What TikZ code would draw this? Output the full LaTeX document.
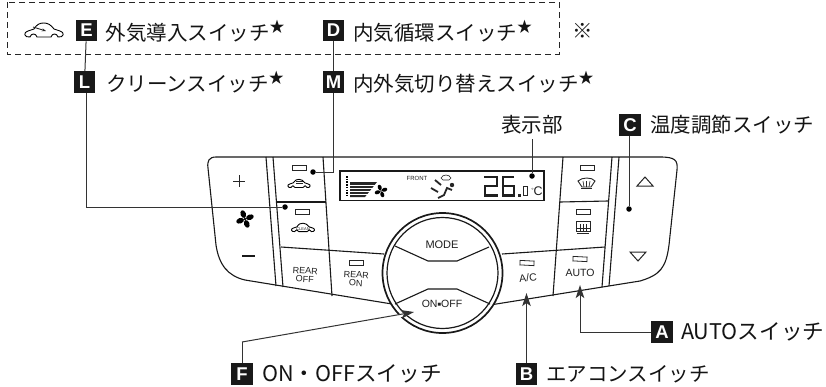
\documentclass[tikz,border=0pt]{standalone}
\usepackage{fontspec}
\setmainfont{Noto Sans CJK JP}
\newfontfamily\latinf{Liberation Sans}
\usetikzlibrary{arrows.meta}
\tikzset{
 panel/.style={line width=1.1pt,draw=black!90},
 ldr/.style={line width=1pt,draw=black!80},
 arrowldr/.style={ldr,-{Stealth[length=13pt,width=8.5pt,inset=3pt]}},
 badge/.style={fill=black!90,text=white,minimum size=21.5pt,inner sep=0pt,font=\latinf\bfseries\fontsize{18.5}{18.5}\selectfont},
 lbl/.style={anchor=west,inner sep=0pt,text=black!92,font=\fontsize{20.5}{21}\selectfont},
 lbllat/.style={lbl,font=\fontsize{21.6}{23}\selectfont},
 dotnode/.style={circle,fill=black,minimum size=5.5pt,inner sep=0pt},
 ind/.style={draw=black!85,line width=0.8pt,fill=white,minimum width=14pt,minimum height=4.5pt,inner sep=0pt},
 btn/.style={font=\latinf\fontsize{#1}{#1}\selectfont,align=center,inner sep=0pt,text=black!88},
 caricon/.pic={
  \draw[line width=0.9pt,line join=round] (-14,6) .. controls (-20,7) and (-21,1) .. (-16,0) -- (-10,-2) .. controls (-7,-7) and (-4,-8) .. (0,-8) .. controls (4,-8) and (7,-6) .. (10,-2) -- (16,0) .. controls (21,1) and (20,7) .. (14,6) .. controls (13,2) and (8,2) .. (7,6) -- (-7,6) .. controls (-8,2) and (-13,2) .. (-14,6) -- cycle;
 },
 fanicon/.pic={
  \foreach \a in {20,110,200,290}{\fill[rotate=\a] (5.2,0) ellipse (4 and 2.7);}
  \fill (0,0) circle (1.3);
 },
}
\newcommand{\seg}[1]{\draw[line width=2.6pt,line cap=butt,line join=miter,black!88] #1;}
\begin{document}
\begin{tikzpicture}[x=1pt,y=-1pt]
\useasboundingbox (0,0) rectangle (826,386);
\fill[white] (0,0) rectangle (826,386);
% dashed box
\draw[line width=1pt,dash pattern=on 6pt off 4pt,black!85] (7,2) rectangle (559,54);
% panel outline
\draw[panel] (216,157) -- (660,157) .. controls (675,157) and (678,160) .. (677,170) -- (669,245) .. controls (666,268) and (660,275) .. (640,281) -- (490,305);
\draw[panel] (216,157) .. controls (209,157) and (207,161) .. (208,168) -- (216,245) .. controls (219,265) and (228,276) .. (245,280) -- (392,304);
\draw[panel] (266,157) -- (276,286);
\draw[panel] (273,157) -- (283,287);
\draw[panel] (323,157) -- (332,296);
\draw[panel] (277,202) -- (326,202);
\draw[panel] (281,247) -- (384,254);
\draw[panel] (563,157) -- (553,296);
\draw[panel] (612,157) -- (602,287);
\draw[panel] (619,157) -- (609,286);
\draw[panel] (560,202) -- (608,201);
\draw[panel] (502,254) -- (605,247);
% dial
\fill[white] (442.5,273) circle (60);
\draw[line width=1.7pt,black!90] (442.5,273) circle (60);
\draw[line width=1.2pt,black!90] (442.5,273) circle (55.5);
\draw[panel] (395,246) -- (428,261) -- (457,261) -- (489,247);
\draw[panel] (395,304) -- (428,289) -- (457,289) -- (490,304);
\node[btn=11] (mode) at (442,245) {MODE};
\node[btn=10.5] (onoff) at (442,304) {ON{\fontsize{6}{6}\selectfont\raisebox{1pt}{■}}OFF};
% panel text & indicators
\draw[line width=1pt,black!85] (233,181) -- (245,181) (239,175) -- (239,187);
\pic at (245,219) {fanicon};
\draw[line width=2.2pt,black!90] (242,256) -- (255,256);
\node[ind] (i1) at (299,168) {};
\node[ind] (i2) at (302,212) {};
\node[ind] (i3) at (356,263) {};
\node[ind,rotate=-3] (i4) at (527,263) {};
\node[ind,rotate=-3] (i5) at (580,259) {};
\node[ind] (i6) at (587,168) {};
\node[ind] (i7) at (583,212) {};
\pic[scale=0.58] at (299,184) {caricon};
\draw[line width=0.5pt,black!85] (296,181) -- (303,181) (296,183) -- (303,183);
\pic[scale=0.6] at (303,228) {caricon};
\node[btn=4] (clean) at (303,229) {CLEAN};
\node[btn=9,rotate=-3] (roff) at (305,275) {REAR\\[-0.5pt]OFF};
\node[btn=9,rotate=-3] (ron) at (356,279) {REAR\\[-0.5pt]ON};
\node[btn=10.5,rotate=6] (ac) at (528,278) {A/C};
\node[btn=10.5] (auto) at (580,273) {AUTO};
% front defrost
\draw[line width=0.9pt,black!85] (578,181) .. controls (582,177) and (592,177) .. (595,181) -- (591,187) -- (582,187) -- cycle;
\draw[line width=0.6pt,black!85] (583,181) -- (584,187) (586.5,181) -- (586.5,187) (590,181) -- (589,187);
\draw[line width=0.8pt,black!85] (581,188.5) -- (592,188.5);
% rear defrost
\draw[line width=0.9pt,black!85] (576,221) rectangle (590,231);
\draw[line width=0.6pt,black!85] (580,224) -- (580,231) (583,224) -- (583,231) (586,224) -- (586,231) (576,228) -- (590,228);
\draw[line width=1pt,black!85] (577,233) -- (589,233);
% triangles
\draw[line width=1pt,black!85] (637,186) -- (645,177) -- (653,186) -- cycle;
\draw[line width=1pt,black!85] (630,252) -- (646,252) -- (638,261) -- cycle;
% display
\draw[line width=1.5pt,black!90] (340,171) rectangle (544,200.5);
\draw[line width=1.7pt,dash pattern=on 1.5pt off 1.2pt] (347,176) -- (347,197);
\fill[black!85] (350,182) -- (377,182) -- (365,197) -- (350,197) -- cycle;
\foreach \y in {185,188,191,194}{\draw[line width=0.6pt,white] (350,\y) -- (378,\y);}
\pic[scale=0.72] at (381,191) {fanicon};
\node[btn=6] (front) at (417,178) {FRONT};
% person icon
\draw[line width=1.8pt,black!85] (431,188) -- (438,192) (435,180) -- (441,185) (438,198) -- (444,195) -- (447,188) -- (452,190);
\fill[black!85] (452,185) circle (2.2);
\draw[line width=0.6pt,black!85] (441,178) .. controls (443,174) and (449,174) .. (451,178) -- (449,180) -- (443,180) -- cycle;
% digits
\seg{(484,177) -- (497,177) -- (497,186) -- (485,186) -- (485,195.5) -- (498,195.5)}
\seg{(514,177) -- (503,177) -- (503,195.5) -- (514,195.5) -- (514,186) -- (503,186)}
\fill[black!85] (518,194) rectangle (520.5,196.5);
\draw[line width=1pt,black!85] (523,186) rectangle (527.5,195.5);
\node[btn=12.5] (deg) at (537,191) {{\fontsize{6}{6}\selectfont\raisebox{3pt}{°}}C};
% top-left icon
\pic[scale=1] at (44,31) {caricon};
\draw[line width=0.9pt,-{Stealth[length=4pt,width=3pt]},black!85] (33,27) -- (46,31) ;
% badges
\node[badge] (bE) at (86.5,30.5) {E};
\node[badge] (bL) at (84.5,82) {L};
\node[badge] (bD) at (333.5,30.5) {D};
\node[badge] (bM) at (333.5,82) {M};
\node[badge] (bC) at (630,125) {C};
\node[badge] (bA) at (662,332) {A};
\node[badge] (bB) at (526.5,374) {B};
\node[badge] (bF) at (242,374) {F};
% labels
\newcommand{\st}{\raisebox{8pt}{\fontsize{15}{15}\selectfont ★}}
\node[lbl] (tE) at (105.5,31) {外気導入スイッチ\st};
\node[lbl] (tD) at (353,31) {内気循環スイッチ\st};
\node[lbl] (tstar) at (572,31) {※};
\node[lbl] (tL) at (106,82) {クリーンスイッチ\st};
\node[lbl] (tM) at (353,82) {内外気切り替えスイッチ\st};
\node[lbl] (tDisp) at (501,125) {表示部};
\node[lbl] (tC) at (650,125) {温度調節スイッチ};
\node[lbllat] (tA) at (681,332) {AUTOスイッチ};
\node[lbl] (tB) at (546,374) {エアコンスイッチ};
\node[lbllat] (tF) at (262,374) {ON・OFFスイッチ};
% dots and free ends
\node[dotnode] (dL) at (285,207) {};
\node[dotnode] (dD) at (313,172) {};
\node[dotnode] (dDisp) at (532,176) {};
\node[dotnode] (dC) at (629,209) {};
\coordinate (aA) at (580,285);
\coordinate (aB) at (526.5,293);
\coordinate (aF) at (414,312);
\coordinate (kF) at (242,342);
\coordinate (dispTop) at (532,139);
% connectors
\draw[ldr] (bE) -- (bL);
\draw[ldr] (bL.south -| 86.5,0) |- (dL);
\draw[ldr] (bD) -- (bM);
\draw[ldr] (bM.south) |- (dD);
\draw[ldr] (dispTop) -- (dDisp);
\draw[ldr] (bC.south -| dC) -- (dC);
\draw[arrowldr] (bA.west) -| (aA);
\draw[arrowldr] (bB.north) -- (aB);
\draw[ldr] (bF.north) -- (kF);
\draw[white,line width=3pt] (392,318) -- (410,313);
\draw[arrowldr] (kF) -- (aF);
\end{tikzpicture}
\end{document}
